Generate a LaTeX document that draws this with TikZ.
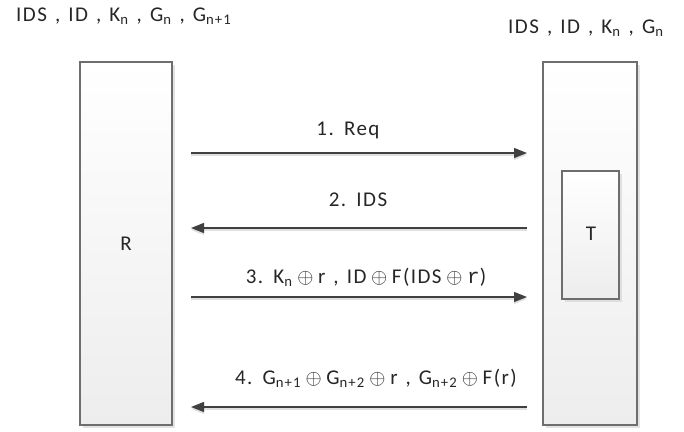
\documentclass[tikz,border=0pt]{standalone}
\usepackage{fontspec}
\setmainfont[LetterSpace=7,WordSpace=1.3]{Carlito}
\newfontfamily\monor{Liberation Mono}
\usetikzlibrary{arrows.meta,shadows}
\definecolor{edgegray}{HTML}{6E6E6E}
\definecolor{arrowgray}{HTML}{404040}
\definecolor{fillbot}{HTML}{EDEDED}
\newcommand{\xo}{\:$\oplus$\:}
\begin{document}
\begin{tikzpicture}[x=1pt,y=-1pt,
  font=\fontsize{21}{25}\selectfont,
  party/.style={draw=edgegray,line width=1.3pt,top color=white,bottom color=fillbot,
    drop shadow={shadow xshift=3pt,shadow yshift=-3pt,fill=black!18,opacity=0.6}},
  msg/.style={draw=arrowgray,line width=1.2pt,-{Triangle[length=13pt,width=10pt]},
    preaction={draw=black!12,line width=1.5pt,transform canvas={yshift=-2pt}}},
  lbl/.style={inner sep=0pt,text=black!85,anchor=base}]
\useasboundingbox (0,0) rectangle (684,431);
% parties
\draw[party] (80,62) rectangle (172,425);
\node[lbl] (R) at (126,250) {R};
\draw[party] (543,62) rectangle (637,425);
\draw[party] (562,171) rectangle (619,299);
\node[lbl] (T) at (591,240) {T};
% anchor points for the messages
\coordinate (a1) at (191,153); \coordinate (b1) at (527,153);
\coordinate (a2) at (191,228); \coordinate (b2) at (527,228);
\coordinate (a3) at (191,297); \coordinate (b3) at (527,297);
\coordinate (a4) at (191,407); \coordinate (b4) at (527,407);
\draw[msg] (a1) -- (b1);
\draw[msg] (b2) -- (a2);
\draw[msg] (a3) -- (b3);
\draw[msg] (b4) -- (a4);
% message labels
\node[lbl] (m1) at (348,135) {1. Req};
\node[lbl] (m2) at (358,206) {2. IDS};
\node[lbl] (m3) at (366,283) {3. K\textsubscript{n}\xo r , ID\xo F(IDS\xo{\monor r})};
\node[lbl] (m4) at (376,384) {4. G\textsubscript{n+1}\xo G\textsubscript{n+2}\xo r , G\textsubscript{n+2}\xo F(r)};
% stored values
\node[lbl,anchor=base west] (kR) at (16,21) {IDS , ID , K\textsubscript{n} , G\textsubscript{n} , G\textsubscript{n+1}};
\node[lbl,anchor=base west] (kT) at (508,33) {IDS , ID , K\textsubscript{n} , G\textsubscript{n}};
\end{tikzpicture}
\end{document}
